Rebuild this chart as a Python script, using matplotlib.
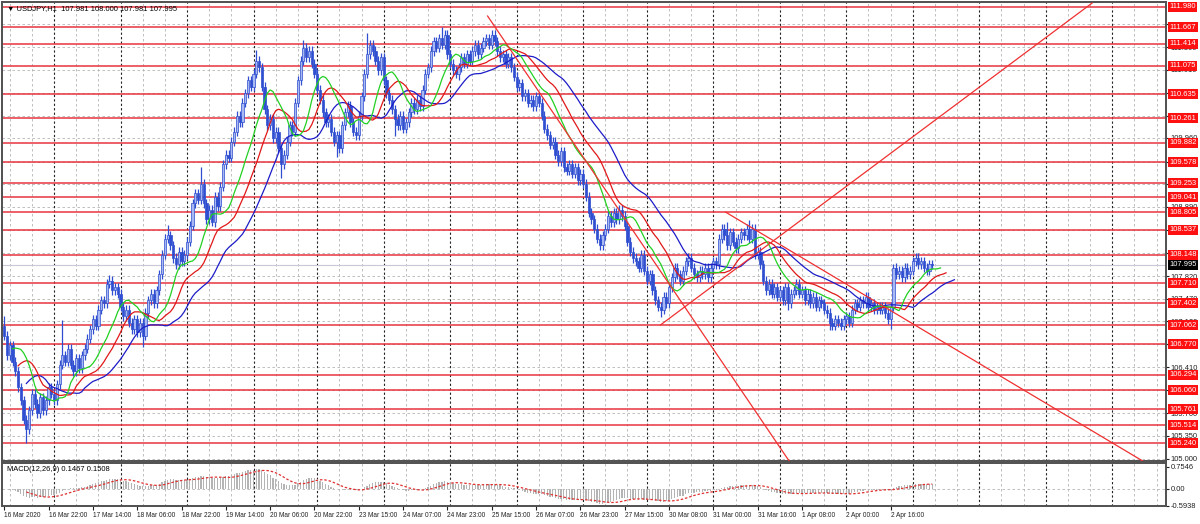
import matplotlib
matplotlib.use("Agg")
import matplotlib.pyplot as plt
import matplotlib.transforms as mtransforms
from matplotlib import font_manager
import numpy as np

# hourly closes, 16 Mar 06:00 .. 3 Apr 07:00
CLOSES = [
    106.90, 106.60, 106.75, 106.50, 106.35, 106.10, 105.90, 105.60, 105.45, 105.75,
    106.00, 105.85, 105.70, 105.95, 105.75, 105.90, 106.10, 106.00, 105.90, 106.15,
    106.45, 106.60, 106.50, 106.70, 106.45, 106.35, 106.55, 106.40, 106.60, 106.70,
    106.85, 107.00, 107.15, 107.05, 107.30, 107.45, 107.40, 107.70, 107.75, 107.60,
    107.65, 107.55, 107.35, 107.20, 107.30, 107.10, 107.00, 107.15, 106.95, 107.10,
    106.90, 107.25, 107.45, 107.55, 107.40, 107.60, 107.85, 108.15, 108.40, 108.45,
    108.30, 108.10, 108.00, 108.20, 108.05, 108.15, 108.35, 108.60, 108.95, 109.10,
    109.00, 109.25, 108.95, 108.70, 108.85, 108.65, 109.05, 108.90, 109.20, 109.55,
    109.70, 109.65, 109.90, 110.05, 110.30, 110.20, 110.50, 110.65, 110.85, 110.75,
    110.95, 111.15, 111.05, 110.75, 110.40, 110.15, 110.25, 109.95, 110.05, 109.80,
    109.55, 109.70, 109.90, 110.15, 110.05, 110.50, 110.85, 111.15, 111.35, 111.20,
    111.30, 111.10, 110.95, 110.70, 110.55, 110.35, 110.20, 110.25, 110.05, 109.90,
    110.00, 109.80, 110.15, 110.35, 110.45, 110.20, 110.05, 110.00, 110.30, 110.60,
    110.95, 111.25, 111.40, 111.30, 111.15, 111.00, 111.20, 110.85, 110.65, 110.55,
    110.40, 110.25, 110.15, 110.30, 110.10, 110.20, 110.35, 110.50, 110.40, 110.55,
    110.45, 110.70, 110.95, 111.05, 111.30, 111.45, 111.35, 111.50, 111.40, 111.55,
    111.25, 111.10, 111.00, 110.95, 111.05, 111.20, 111.10, 111.25, 111.15, 111.30,
    111.40, 111.25, 111.35, 111.45, 111.50, 111.40, 111.55, 111.45, 111.30, 111.20,
    111.25, 111.10, 111.20, 111.05, 110.90, 110.75, 110.80, 110.60, 110.65, 110.50,
    110.55, 110.45, 110.60, 110.50, 110.30, 110.10, 110.00, 109.85, 109.90, 109.70,
    109.60, 109.75, 109.50, 109.45, 109.55, 109.40, 109.50, 109.30, 109.40, 109.25,
    109.05, 108.80, 108.70, 108.55, 108.40, 108.30, 108.45, 108.55, 108.75, 108.65,
    108.80, 108.70, 108.85, 108.75, 108.60, 108.35, 108.20, 108.10, 108.05, 107.95,
    108.15, 107.90, 107.75, 107.85, 107.60, 107.45, 107.35, 107.30, 107.50, 107.40,
    107.65, 107.80, 107.95, 107.85, 107.75, 107.90, 108.05, 108.10, 107.95, 107.85,
    107.80, 107.90, 107.85, 107.95, 107.80, 107.95, 108.05, 108.00, 108.40, 108.55,
    108.45, 108.30, 108.50, 108.35, 108.25, 108.40, 108.50, 108.45, 108.55, 108.40,
    108.55, 108.15, 108.20, 108.00, 107.75, 107.60, 107.70, 107.55, 107.65, 107.50,
    107.60, 107.45, 107.65, 107.40, 107.55, 107.60, 107.70, 107.55, 107.60, 107.45,
    107.55, 107.40, 107.50, 107.35, 107.45, 107.40, 107.30, 107.25, 107.10, 107.05,
    107.15, 107.10, 107.05, 107.15, 107.20, 107.10, 107.30, 107.40, 107.35, 107.45,
    107.40, 107.50, 107.35, 107.40, 107.30, 107.35, 107.30, 107.35, 107.25, 107.15,
    107.35, 107.95, 107.85, 107.90, 107.80, 107.95, 107.85, 107.90, 108.05, 108.10,
    108.00, 108.05, 107.95, 107.90, 108.00, 107.995,
]
FIRST_OPEN = 107.05
WICK = 0.07
SPIKE_HIGH = {0: 107.20, 21: 107.14, 38: 107.84, 59: 108.61, 71: 109.51, 91: 111.32,
              108: 111.47, 131: 111.58, 158: 111.67, 176: 111.63, 261: 108.65,
              269: 108.69, 321: 108.00, 330: 108.18}
SPIKE_LOW = {8: 105.24, 50: 106.73, 75: 108.60, 100: 109.34, 120: 109.66, 141: 109.98,
             164: 110.85, 215: 108.22, 237: 107.19, 283: 107.30, 298: 106.99, 320: 107.00}

LEVELS = [111.980, 111.667, 111.414, 111.075, 110.635, 110.261, 109.882, 109.578,
          109.253, 109.041, 108.805, 108.537, 108.148, 107.710, 107.402, 107.062,
          106.770, 106.294, 106.060, 105.761, 105.514, 105.240]
LAST_PRICE = 107.995
PRICE_TICKS = [105.000, 105.350, 105.700, 106.060, 106.410, 106.770, 107.120, 107.470,
               107.820, 108.180, 108.530, 108.890, 109.240, 109.590, 109.960, 110.300,
               110.650, 111.010, 111.360, 111.710]

TIME_LABELS = ["16 Mar 2020", "16 Mar 22:00", "17 Mar 14:00", "18 Mar 06:00", "18 Mar 22:00",
               "19 Mar 14:00", "20 Mar 06:00", "20 Mar 22:00", "23 Mar 15:00", "24 Mar 07:00",
               "24 Mar 23:00", "25 Mar 15:00", "26 Mar 07:00", "26 Mar 23:00", "27 Mar 15:00",
               "30 Mar 08:00", "31 Mar 00:00", "31 Mar 16:00", "1 Apr 08:00", "2 Apr 00:00",
               "2 Apr 16:00"]
DAY_STARTS = [-6, 18, 42, 66, 90, 113, 137, 161, 185, 209, 232, 256, 280, 304, 328, 352, 376, 400]

# trendlines as (bar, price) pairs
TRENDLINES = [((174.5, 111.84), (283.4, 104.96)),
              ((236.9, 107.065), (392.7, 112.04)),
              ((260.4, 108.81), (411.1, 104.96))]

BLUE = "#2f4fd0"
LEVEL_RED = "#e8303c"

# small narrow font like the terminal's, if there is one
try:
    font_manager.findfont("Liberation Sans Narrow", fallback_to_default=False)
    SMALL = dict(family=["Liberation Sans Narrow", "DejaVu Sans"], size=6.2)
    TIME_SIZE = 5.6
except Exception:
    SMALL = dict(family=["Liberation Sans", "DejaVu Sans"], size=5.4)
    TIME_SIZE = 4.7

closes = np.array(CLOSES)
n = len(closes)
idx = np.arange(n)
opens = np.concatenate([[FIRST_OPEN], closes[:-1]])
highs = np.maximum(opens, closes) + WICK
lows = np.minimum(opens, closes) - WICK
for k, v in SPIKE_HIGH.items():
    highs[k] = v
for k, v in SPIKE_LOW.items():
    lows[k] = v
median = (highs + lows) / 2


def smma(values, period):
    out = np.empty_like(values)
    out[0] = values[:period].mean()
    for i in range(1, len(values)):
        out[i] = (out[i - 1] * (period - 1) + values[i]) / period
    return out


def ema(values, period):
    a = 2.0 / (period + 1)
    out = np.empty_like(values)
    out[0] = values[0]
    for i in range(1, len(values)):
        out[i] = a * values[i] + (1 - a) * out[i - 1]
    return out


jaw = smma(median, 13)
teeth = smma(median, 8)
lips = smma(median, 5)
macd = ema(closes, 12) - ema(closes, 26)
signal = np.convolve(macd, np.ones(9) / 9, mode="full")[:n]
signal[:8] = np.nan

fig = plt.figure(figsize=(12, 5.24), dpi=100)
fig.patch.set_facecolor("white")
ax = fig.add_axes([2 / 1200, 1 - 461 / 524, 1164 / 1200, 459 / 524])
axm = fig.add_axes([2 / 1200, 18 / 524, 1164 / 1200, 43 / 524], sharex=ax)

XMIN, XMAX = -0.8, 419.4
for a in (ax, axm):
    for d in DAY_STARTS:
        a.axvline(d, color="#222222", lw=0.8, ls=(0, (2, 2)), zorder=1)
        for off in (8, 16):
            a.axvline(d + off, color="#b4b4b4", lw=0.6, ls=(0, (3, 3)), zorder=0.5)
    for s in a.spines.values():
        s.set_color("#505050")
        s.set_linewidth(1.4)

for t in PRICE_TICKS:
    ax.axhline(t, color="#b4b4b4", lw=0.6, ls=(0, (3, 3)), zorder=0.5)

# horizontal levels
for lv in LEVELS:
    ax.axhline(lv, color=LEVEL_RED, lw=1.2, alpha=0.9, zorder=2)
ax.axhline(LAST_PRICE, color="#c8c8d8", lw=0.8, zorder=1.5)

# candles
ax.vlines(idx, lows, highs, color=BLUE, lw=0.9, zorder=3)
up = closes >= opens
ax.bar(idx[up], (closes - opens)[up], bottom=opens[up], width=0.8,
       facecolor="#a7b8f2", edgecolor=BLUE, linewidth=0.5, zorder=3.5)
ax.bar(idx[~up], (opens - closes)[~up], bottom=closes[~up], width=0.8,
       facecolor=BLUE, edgecolor=BLUE, linewidth=0.5, zorder=3.5)

# alligator lines
ax.plot(idx + 8, jaw, color="#1c1cc8", lw=0.9, zorder=4)
ax.plot(idx + 5, teeth, color="#e01818", lw=0.9, zorder=4)
ax.plot(idx + 3, lips, color="#22d022", lw=0.9, zorder=4)

for (x0, y0), (x1, y1) in TRENDLINES:
    ax.plot([x0, x1], [y0, y1], color="#f03030", lw=0.9, zorder=4)

ax.set_xlim(XMIN, XMAX)
ax.set_ylim(104.963, 112.057)
ax.yaxis.tick_right()
ax.set_yticks(PRICE_TICKS)
ax.set_yticklabels([f"{t:.3f}" for t in PRICE_TICKS], **SMALL)
ax.tick_params(axis="y", length=2.5, pad=1, colors="#202020")
ax.tick_params(axis="x", bottom=False, labelbottom=False)

ytrans = mtransforms.blended_transform_factory(ax.transAxes, ax.transData)
for lv in LEVELS:
    ax.text(1.003, lv, f"{lv:.3f}", transform=ytrans, color="white",
            va="center", ha="left", clip_on=False, zorder=6, **SMALL,
            bbox=dict(boxstyle="square,pad=0.2", fc="#ff1010", ec="none"))
ax.text(1.003, LAST_PRICE, f"{LAST_PRICE:.3f}", transform=ytrans,
        color="white", va="center", ha="left", clip_on=False, zorder=6, **SMALL,
        bbox=dict(boxstyle="square,pad=0.2", fc="#000000", ec="none"))

ax.text(0.004, 0.993, "\u25bc USDJPY,H1  107.981 108.000 107.981 107.995",
        transform=ax.transAxes, va="top", ha="left", zorder=7, **SMALL)

# MACD panel
axm.bar(idx, macd, width=0.45, color="#b4b4b4", zorder=2)
axm.plot(idx, signal, color="#e03030", lw=0.9, ls=(0, (2, 1.5)), zorder=3)
axm.axhline(0, color="#b4b4b4", lw=0.6, ls=(0, (3, 3)), zorder=0.5)
axm.set_ylim(-0.60, 0.89)
axm.yaxis.tick_right()
axm.set_yticks([0.7546, 0.0, -0.5938])
axm.set_yticklabels(["0.7546", "0.00", "-0.5938"], **SMALL)
axm.tick_params(axis="y", length=2.5, pad=1, colors="#202020")
axm.set_xticks(np.arange(len(TIME_LABELS)) * 16)
axm.set_xticklabels(TIME_LABELS, ha="left", family=SMALL["family"], size=TIME_SIZE)
axm.tick_params(axis="x", length=3, pad=1.5, colors="#202020")
axm.text(0.004, 0.93, "MACD(12,26,9) 0.1467 0.1508", transform=axm.transAxes,
         va="top", ha="left", zorder=7, **SMALL)

fig.savefig("out.png", dpi=100)
